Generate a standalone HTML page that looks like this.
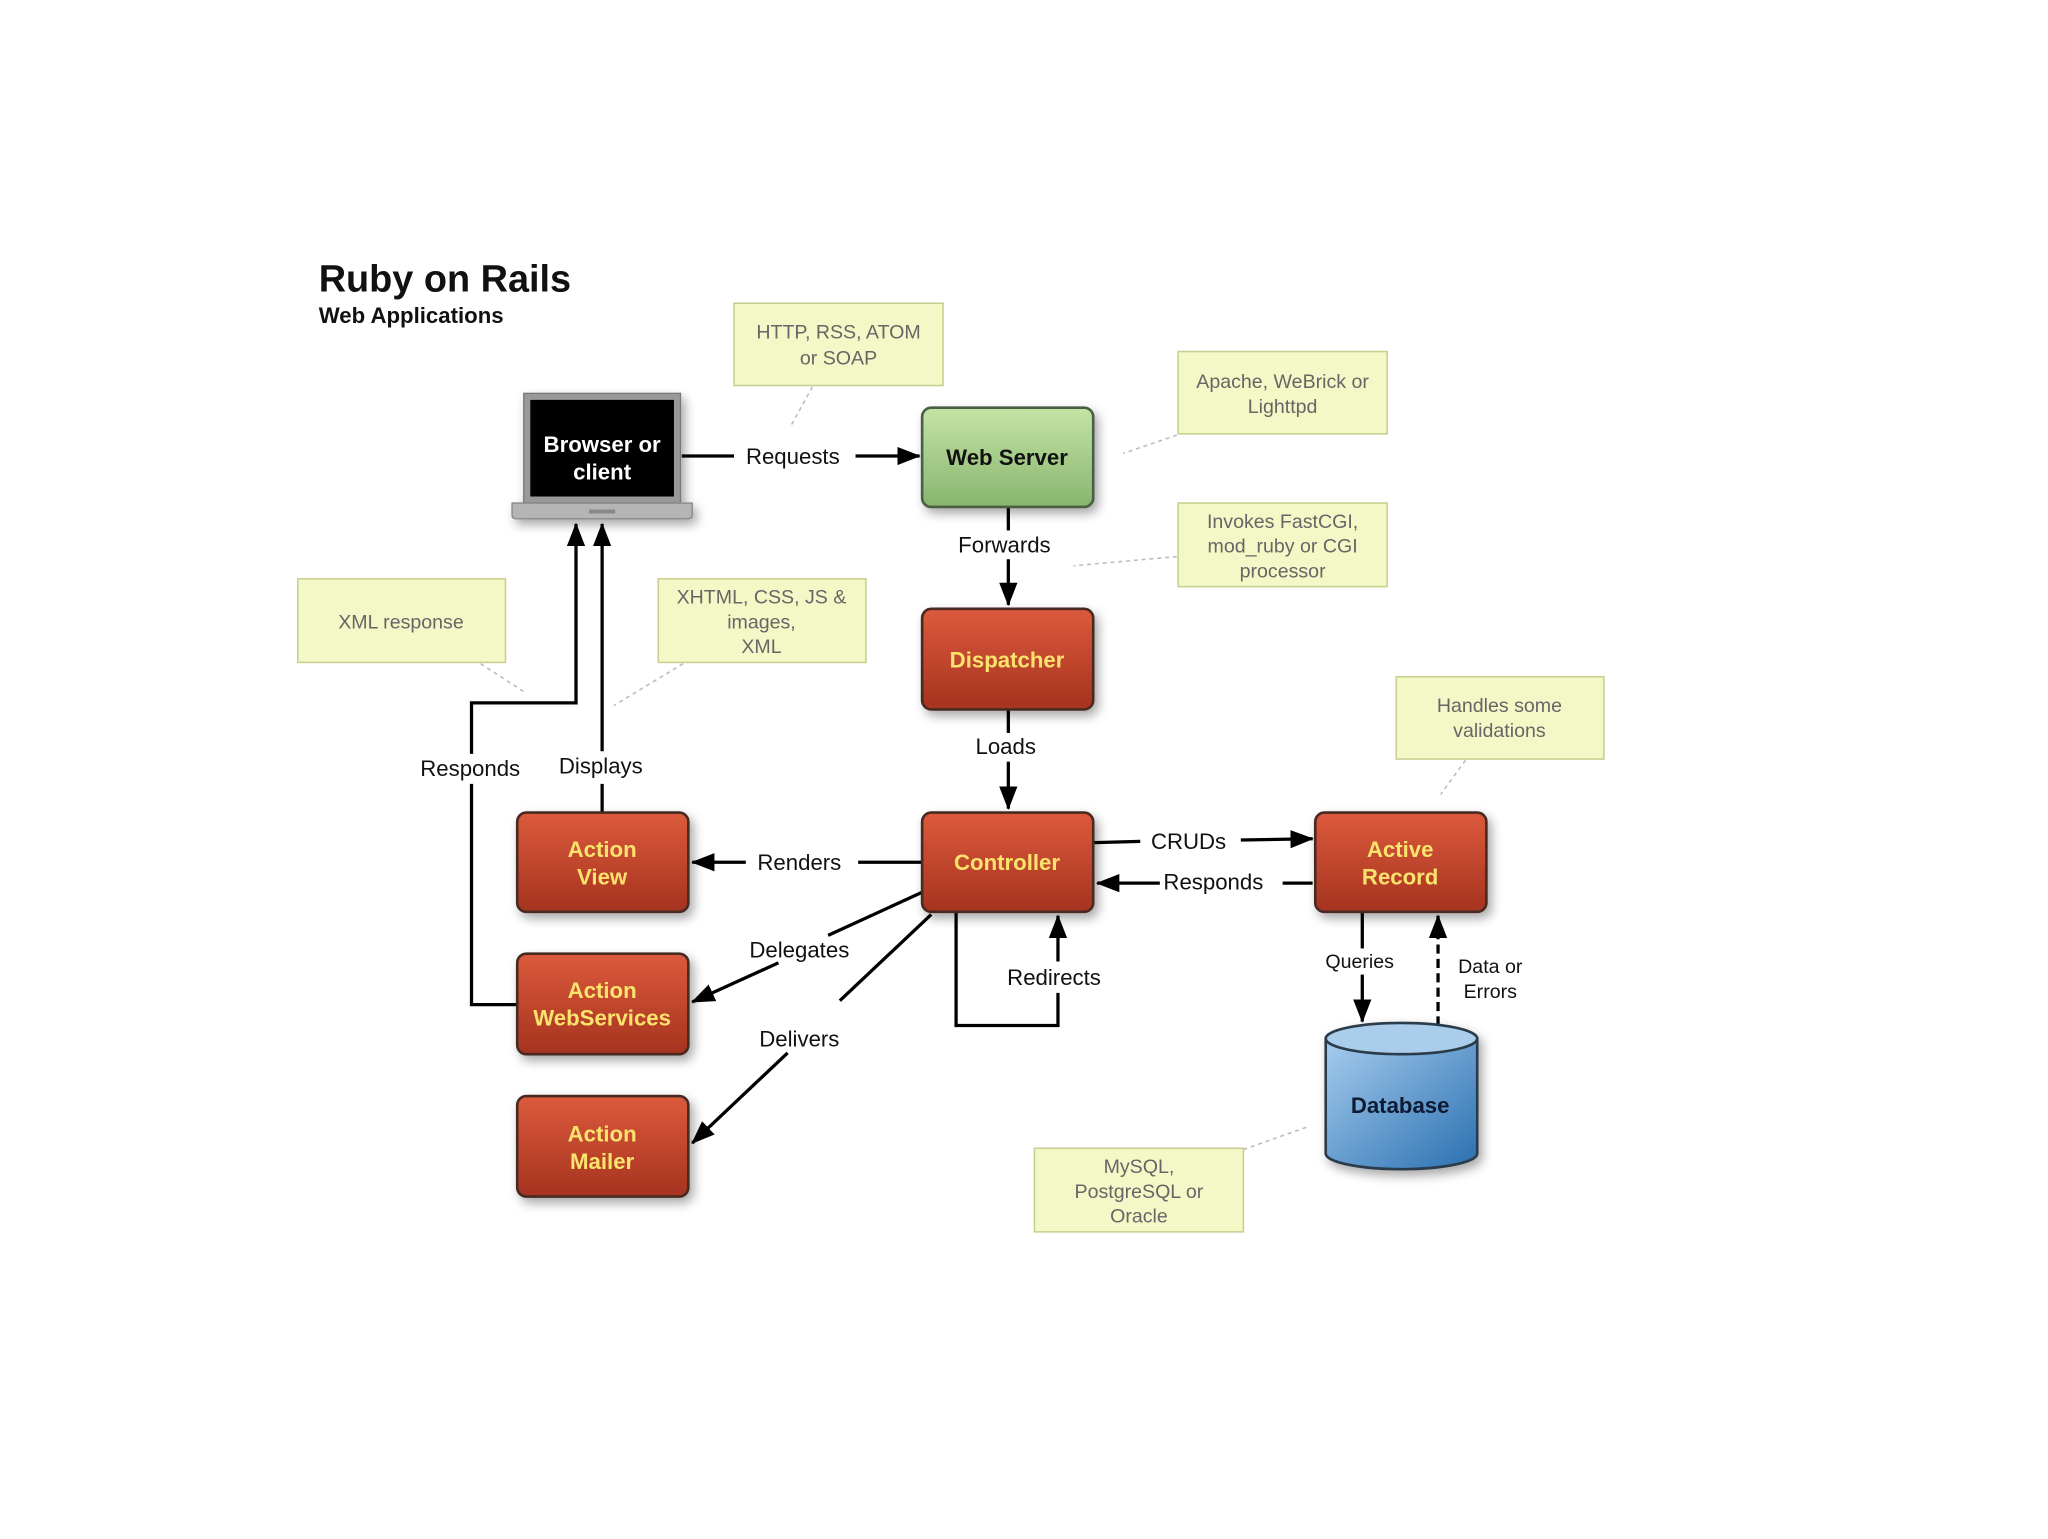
<!DOCTYPE html>
<html><head><meta charset="utf-8"><style>
html,body{margin:0;padding:0;background:#fff;}
svg{display:block;}
text{font-family:"Liberation Sans",sans-serif;}
.lbl{font-size:17px;fill:#111;text-anchor:middle;}
.note{fill:#f4f8c6;stroke:#c9cf8e;stroke-width:1.2;}
.nt{font-size:15px;fill:#666;text-anchor:middle;}
.bt{font-size:17px;font-weight:bold;fill:#fbe46e;text-anchor:middle;}
.ln{stroke:#000;stroke-width:2.5;fill:none;}
.dot{stroke:#bbb;stroke-width:1.2;stroke-dasharray:3 3;fill:none;}
.box{stroke:#4a2a22;stroke-width:2;}
</style></head><body>
<svg width="2048" height="1539" viewBox="0 0 1568 1178" xmlns="http://www.w3.org/2000/svg">
<defs>
<linearGradient id="red" x1="0" y1="0" x2="0" y2="1"><stop offset="0" stop-color="#dc5a3c"/><stop offset="1" stop-color="#a5331f"/></linearGradient>
<linearGradient id="grn" x1="0" y1="0" x2="0" y2="1"><stop offset="0" stop-color="#c4e4a6"/><stop offset="1" stop-color="#88b56e"/></linearGradient>
<linearGradient id="blu" x1="0" y1="0" x2="1" y2="1"><stop offset="0" stop-color="#a6cdee"/><stop offset="1" stop-color="#2a6fb0"/></linearGradient>
<marker id="ar2" markerWidth="18" markerHeight="14" refX="17" refY="7" orient="auto" markerUnits="userSpaceOnUse" viewBox="0 0 18 14"><path d="M0,0 L18,7 L0,14 z" fill="#000"/></marker>
<filter id="sh" x="-20%" y="-20%" width="150%" height="150%"><feDropShadow dx="3" dy="4" stdDeviation="4" flood-color="#000" flood-opacity="0.35"/></filter>
</defs>
<rect width="1568" height="1178" fill="#fff"/>
<text x="244" y="223" font-size="29" font-weight="bold" fill="#111">Ruby on Rails</text>
<text x="244" y="247" font-size="17" font-weight="bold" fill="#111">Web Applications</text>

<path class="dot" d="M622,296 L606,325"/>
<path class="dot" d="M901,333 L860,347"/>
<path class="dot" d="M901,426 L822,433"/>
<path class="dot" d="M368,508 L402,530"/>
<path class="dot" d="M523,508 L470,540"/>
<path class="dot" d="M1122,582 L1103,608"/>
<path class="dot" d="M952,880 L1000,863"/>

<rect class="note" x="562" y="232" width="160" height="63"/>
<text class="nt" x="642" y="259">HTTP, RSS, ATOM</text><text class="nt" x="642" y="279">or SOAP</text>
<rect class="note" x="902" y="269" width="160" height="63"/>
<text class="nt" x="982" y="297">Apache, WeBrick or</text><text class="nt" x="982" y="316">Lighttpd</text>
<rect class="note" x="902" y="385" width="160" height="64"/>
<text class="nt" x="982" y="404">Invokes FastCGI,</text><text class="nt" x="982" y="423">mod_ruby or CGI</text><text class="nt" x="982" y="442">processor</text>
<rect class="note" x="228" y="443" width="159" height="64"/>
<text class="nt" x="307" y="481">XML response</text>
<rect class="note" x="504" y="443" width="159" height="64"/>
<text class="nt" x="583" y="462">XHTML, CSS, JS &amp;</text><text class="nt" x="583" y="481">images,</text><text class="nt" x="583" y="500">XML</text>
<rect class="note" x="1069" y="518" width="159" height="63"/>
<text class="nt" x="1148" y="545">Handles some</text><text class="nt" x="1148" y="564">validations</text>
<rect class="note" x="792" y="879" width="160" height="64"/>
<text class="nt" x="872" y="898">MySQL,</text><text class="nt" x="872" y="917">PostgreSQL or</text><text class="nt" x="872" y="936">Oracle</text>

<path class="ln" d="M522,349 L562,349"/>
<path class="ln" d="M655,349 L704,349" marker-end="url(#ar2)"/>
<text class="lbl" x="607" y="355">Requests</text>
<path class="ln" d="M772,388 L772,406"/>
<path class="ln" d="M772,428 L772,463" marker-end="url(#ar2)"/>
<text class="lbl" x="769" y="423">Forwards</text>
<path class="ln" d="M772,543 L772,561"/>
<path class="ln" d="M772,583 L772,619" marker-end="url(#ar2)"/>
<text class="lbl" x="770" y="577">Loads</text>
<path class="ln" d="M706,660 L657,660"/>
<path class="ln" d="M571,660 L530,660" marker-end="url(#ar2)"/>
<text class="lbl" x="612" y="666">Renders</text>
<path class="ln" d="M838,645 L873,644"/>
<path class="ln" d="M950,643 L1005,642" marker-end="url(#ar2)"/>
<text class="lbl" x="910" y="650">CRUDs</text>
<path class="ln" d="M1005,676 L982,676"/>
<path class="ln" d="M888,676 L840,676" marker-end="url(#ar2)"/>
<text class="lbl" x="929" y="681">Responds</text>
<path class="ln" d="M706,683 L634,716"/>
<path class="ln" d="M596,737 L530,767" marker-end="url(#ar2)"/>
<text class="lbl" x="612" y="733">Delegates</text>
<path class="ln" d="M713,700 L643,766"/>
<path class="ln" d="M603,806 L530,875" marker-end="url(#ar2)"/>
<text class="lbl" x="612" y="801">Delivers</text>
<path class="ln" d="M732,698 L732,785 L810,785 L810,760"/>
<path class="ln" d="M810,736 L810,701" marker-end="url(#ar2)"/>
<text class="lbl" x="807" y="754">Redirects</text>
<path class="ln" d="M461,622 L461,600"/>
<path class="ln" d="M461,575 L461,401" marker-end="url(#ar2)"/>
<text class="lbl" x="460" y="592">Displays</text>
<path class="ln" d="M396,769 L361,769 L361,600"/>
<path class="ln" d="M361,577 L361,538 L441,538 L441,401" marker-end="url(#ar2)"/>
<text class="lbl" x="360" y="594">Responds</text>
<path class="ln" d="M1043,698 L1043,726"/>
<path class="ln" d="M1043,746 L1043,782" marker-end="url(#ar2)"/>
<text x="1041" y="741" font-size="15" fill="#111" text-anchor="middle">Queries</text>
<path class="ln" d="M1101,785 L1101,701" stroke-dasharray="7 4" marker-end="url(#ar2)"/>
<text x="1141" y="745" font-size="15" fill="#111" text-anchor="middle">Data or</text>
<text x="1141" y="764" font-size="15" fill="#111" text-anchor="middle">Errors</text>

<g filter="url(#sh)">
<rect x="401" y="301" width="120" height="84" fill="#999" stroke="#777"/>
<rect x="406" y="306" width="110" height="74" fill="#050505"/>
<path d="M392,385 L530,385 L530,394 Q530,397 527,397 L395,397 Q392,397 392,394 Z" fill="#b5b5b5" stroke="#888"/>
<rect x="451" y="390" width="20" height="3" fill="#888"/>
</g>
<text x="461" y="346" font-size="17" font-weight="bold" fill="#fff" text-anchor="middle">Browser or</text>
<text x="461" y="367" font-size="17" font-weight="bold" fill="#fff" text-anchor="middle">client</text>

<g filter="url(#sh)">
<rect x="706" y="312" width="131" height="76" rx="7" fill="url(#grn)" stroke="#4a5e44" stroke-width="2"/>
<rect class="box" x="706" y="466" width="131" height="77" rx="7" fill="url(#red)"/>
<rect class="box" x="706" y="622" width="131" height="76" rx="7" fill="url(#red)"/>
<rect class="box" x="1007" y="622" width="131" height="76" rx="7" fill="url(#red)"/>
<rect class="box" x="396" y="622" width="131" height="76" rx="7" fill="url(#red)"/>
<rect class="box" x="396" y="730" width="131" height="77" rx="7" fill="url(#red)"/>
<rect class="box" x="396" y="839" width="131" height="77" rx="7" fill="url(#red)"/>
<path d="M1015,795 L1015,883 A58,12 0 0 0 1131,883 L1131,795 Z" fill="url(#blu)" stroke="#2a3a4a" stroke-width="2"/>
<ellipse cx="1073" cy="795" rx="58" ry="12" fill="#a9cdea" stroke="#2a3a4a" stroke-width="2"/>
</g>
<text x="771" y="356" font-size="17" font-weight="bold" fill="#111" text-anchor="middle">Web Server</text>
<text class="bt" x="771" y="511">Dispatcher</text>
<text class="bt" x="771" y="666">Controller</text>
<text class="bt" x="1072" y="656">Active</text><text class="bt" x="1072" y="677">Record</text>
<text class="bt" x="461" y="656">Action</text><text class="bt" x="461" y="677">View</text>
<text class="bt" x="461" y="764">Action</text><text class="bt" x="461" y="785">WebServices</text>
<text class="bt" x="461" y="874">Action</text><text class="bt" x="461" y="895">Mailer</text>
<text x="1072" y="852" font-size="17" font-weight="bold" fill="#0d1a33" text-anchor="middle">Database</text>
</svg>
</body></html>
